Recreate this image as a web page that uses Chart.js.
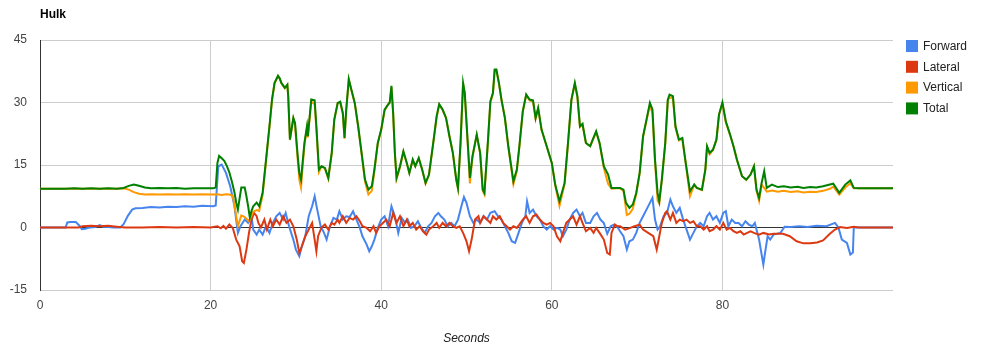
<!DOCTYPE html>
<html>
<head>
<meta charset="utf-8">
<title>Hulk</title>
<script src="https://cdn.jsdelivr.net/npm/chart.js@4.4.1/dist/chart.umd.min.js"></script>
<style>
html,body{margin:0;padding:0;background:#fff;}
#wrap{width:1000px;height:358px;}
</style>
</head>
<body>
<div id="wrap"><canvas id="hulkChart" width="1000" height="358"></canvas></div>
<script>
// [seconds, value]
const forward = [
[0,0],[3.0,0],[3.2,1.2],[3.6,1.3],[4.2,1.3],[4.6,0.5],[4.9,-0.4],[5.3,-0.3],[5.8,0],[6.5,0.1],[7.0,0.6],[7.4,0.2],[8.0,0.1],[8.6,0],[9.4,0],
[9.8,0.8],[10.3,2.8],[10.8,4.3],[11.2,4.6],[12,4.7],[13,4.9],[14,4.8],[15,5.0],[16,4.9],[17,5.1],[18,5.0],[19,5.2],[20.3,5.1],
[20.6,5.3],[20.9,14.7],[21.3,15.1],[21.8,13.1],[22.3,9.9],[22.8,5.1],[23.2,-1.3],[23.5,0.3],[24.0,1.9],[24.4,1.1],[24.8,2.7],[25.0,-0.5],
[25.4,-1.7],[25.7,-0.5],[26.1,-1.7],[26.5,0.3],[26.9,-1.3],[27.3,1.1],[27.7,2.7],[28.1,3.5],[28.5,1.9],[28.8,3.5],[29.2,0.3],[29.7,-2.9],
[30.0,-5.3],[30.4,-6.9],[30.7,-4.5],[31.1,-2.1],[31.5,2.7],[31.9,5.1],[32.2,7.5],[32.5,4.3],[32.9,0.3],[33.3,-1.3],[33.6,-2.9],[34.0,0.3],
[34.4,2.3],[34.8,1.9],[35.1,3.9],[35.5,1.9],[35.9,2.7],[36.3,2.5],[36.7,3.9],[37.1,1.9],[37.5,-0.1],[37.8,-2.1],[38.3,-4.1],[38.6,-5.7],
[38.9,-4.5],[39.2,-2.9],[39.6,-0.1],[40.0,1.9],[40.4,2.7],[40.8,0.3],[41.2,5.1],[41.6,2.7],[42.0,-1.3],[42.4,2.3],[42.8,1.1],[43.1,1.9],
[43.5,-0.1],[43.9,0.3],[44.3,1.5],[44.7,-0.1],[45.1,-1.3],[45.5,0.3],[45.9,1.1],[46.3,2.7],[46.7,3.5],[47.0,2.7],[47.4,1.9],[47.8,0.3],
[48.2,1.1],[48.6,0.3],[49.0,1.9],[49.4,5.1],[49.7,7.3],[50.0,5.9],[50.4,2.7],[50.8,1.1],[51.2,1.9],[51.6,1.1],[52.0,2.7],[52.4,1.9],
[52.8,3.5],[53.3,3.9],[53.7,2.7],[54.1,1.9],[54.5,0.3],[54.9,-1.3],[55.3,-3.3],[55.7,-3.7],[56.1,-1.3],[56.5,1.1],[56.9,2.7],[57.1,6.3],
[57.4,3.5],[57.8,4.3],[58.2,2.7],[58.6,1.9],[59.0,0.3],[59.4,-0.5],[59.8,0.3],[60.2,-0.5],[60.6,-0.1],[61.0,-0.5],[61.3,-2.1],[61.7,-0.5],
[62.1,1.9],[62.5,3.5],[62.9,4.3],[63.3,2.7],[63.6,3.5],[64.0,1.1],[64.5,1.1],[64.9,2.7],[65.3,3.5],[65.7,1.9],[66.1,1.1],[66.5,-1.5],
[66.9,0.3],[67.3,0.7],[67.7,0.1],[68.0,-0.9],[68.4,-2.1],[68.8,-5.3],[69.1,-3.3],[69.5,-2.9],[69.9,-1.3],[70.3,1.1],[70.7,2.7],[71.1,4.3],
[71.5,5.9],[71.8,7.1],[72.1,1.9],[72.4,-0.5],[72.7,0.3],[73.1,2.7],[73.5,3.5],[73.9,6.7],[74.2,5.1],[74.6,3.5],[75.0,4.7],[75.4,1.9],
[75.8,-0.5],[76.2,-2.9],[76.6,-1.3],[77.0,0.3],[77.4,1.1],[77.8,0.3],[78.2,2.7],[78.5,3.5],[78.9,1.9],[79.3,2.7],[79.7,1.1],[80.1,3.5],
[80.4,3.9],[80.7,0.3],[81.1,1.9],[81.5,1.1],[81.9,1.1],[82.3,0.3],[82.7,1.5],[83.1,0.7],[83.5,0.3],[83.8,1.1],[84.3,-2.9],[84.8,-8.9],
[85.0,-6.1],[85.3,-2.1],[85.6,-2.9],[86.0,-1.7],[86.8,-1.3],[87.3,0.2],[88,0.1],[89,0.3],[90,0.1],[91,0.4],[92.2,0.3],[93.2,1.1],
[93.6,0],[94.0,-2.9],[94.6,-3.7],[95.0,-6.5],[95.3,-6.0],[95.4,0],[100,0]
];

const lateral = [
[0,0],[4.5,0],[5,0.3],[6,0.4],[7,0.3],[8,0.4],[9,0.2],[10,0],[12,0],[14,0.1],[16,0],[18,0.1],[20,0],
[20.8,0.3],[21.2,-0.2],[21.5,0.4],[21.8,-0.3],[22.2,0.7],[22.6,-0.1],[23.0,-2.9],[23.4,-4.5],[23.7,-8.1],[23.9,-8.5],[24.2,-5.3],
[24.5,-1.3],[24.8,1.9],[25.1,3.5],[25.4,2.7],[25.6,1.1],[25.9,0],[26.3,1.9],[26.6,-0.5],[27.0,1.9],[27.3,0.3],[27.7,1.9],[28.1,0.7],
[28.5,2.7],[28.9,1.1],[29.3,1.9],[29.7,0.3],[30.1,-2.9],[30.4,-6.1],[30.7,-4.5],[31.1,-2.1],[31.5,-0.5],[31.9,1.1],[32.2,-2.9],
[32.4,-5.7],[32.6,-2.1],[33.0,0],[33.4,0.7],[33.8,-0.5],[34.2,1.1],[34.5,0.7],[34.9,1.9],[35.1,1.1],[35.5,2.7],[35.9,1.1],[36.3,2.3],
[36.7,1.9],[37.1,2.7],[37.5,1.5],[37.8,0.3],[38.3,-0.1],[38.7,-0.9],[39.1,0.3],[39.4,-1.3],[39.8,0.3],[40.2,1.1],[40.6,1.9],[41.0,0.3],
[41.4,3.5],[41.8,1.1],[42.2,2.7],[42.6,0.3],[43.0,1.9],[43.3,0.3],[43.7,1.1],[44.1,-0.5],[44.5,0.3],[44.9,-0.9],[45.3,-1.7],[45.6,-0.5],
[46.1,0.3],[46.5,1.1],[46.8,-0.1],[47.2,1.1],[47.6,0.3],[48.0,1.1],[48.4,0.3],[48.8,-0.1],[49.2,0.3],[49.6,-1.3],[50.0,-3.3],[50.3,-5.7],
[50.6,-2.9],[51.0,1.9],[51.4,2.7],[51.6,1.1],[52.0,2.7],[52.4,1.9],[52.8,1.1],[53.1,2.7],[53.5,1.9],[53.9,2.7],[54.3,1.1],[54.7,0.3],
[55.1,-0.5],[55.5,0.3],[55.9,-0.1],[56.2,0.7],[56.6,1.9],[57.0,2.7],[57.4,1.1],[57.8,2.7],[58.2,3.1],[58.6,1.9],[59.0,1.1],[59.4,0.7],
[59.8,1.1],[60.2,0.3],[60.6,-2.1],[61.0,-3.3],[61.3,-1.3],[61.7,1.1],[62.1,1.9],[62.5,2.7],[62.9,0.7],[63.3,2.7],[63.6,1.1],[64.0,-0.9],
[64.5,-0.1],[64.9,-1.3],[65.2,-0.1],[65.6,-1.3],[66.1,-2.9],[66.5,-6.1],[66.8,-6.5],[67.0,-1.3],[67.4,0.7],[67.7,0.3],[68.0,0.3],
[68.6,-0.5],[69.2,-0.1],[69.7,0.3],[70.3,0.7],[70.7,-0.5],[71.3,-1.3],[71.9,-2.1],[72.3,-5.3],[72.6,-2.1],[72.9,1.1],[73.3,3.5],
[73.5,3.9],[73.9,1.9],[74.2,3.5],[74.6,1.1],[75.0,1.9],[75.4,1.5],[75.8,1.9],[76.2,1.1],[76.6,1.5],[77.0,0.3],[77.4,0.3],[77.8,-0.5],
[78.2,0.3],[78.5,-0.9],[78.9,-0.5],[79.3,0.3],[79.7,-0.5],[80.1,1.1],[80.5,-0.5],[80.9,-0.1],[81.3,-0.9],[81.7,-1.3],[82.1,-0.9],
[82.5,-1.7],[82.9,-1.3],[83.3,-0.9],[83.7,-1.3],[84.3,-1.7],[84.8,-1.3],[85.5,-1.7],[86.0,-1.5],[87.1,-1.5],[87.9,-2.1],[88.7,-3.3],
[89.5,-3.8],[90.3,-3.8],[91.1,-3.6],[91.8,-3.1],[92.6,-1.5],[93.2,-0.5],[93.8,0.1],[94.6,-0.1],[95.4,0.2],[96,0],[100,0]
];

const vertical = [
[0,9.3],[1,9.3],[2,9.3],[3,9.3],[4,9.3],[5,9.3],[6,9.3],[7,9.3],[8,9.3],[9,9.3],[9.8,9.4],[10.4,9.1],[11,8.5],[11.6,8.1],[12.3,7.9],
[13,8.0],[14,7.9],[15,8.0],[16,7.9],[17,8.0],[18,7.9],[19,8.0],[20.3,7.9],[20.8,8.0],[21.3,7.8],[21.8,8.0],[22.2,7.9],[22.6,7.6],
[22.9,4.0],[23.2,0.3],[23.6,2.9],[24.0,2.5],[24.5,1.5],[25.0,3.8],[25.4,4.2],[25.7,4.0],[26.1,7.8],[26.5,16.0],[26.9,24.1],[27.2,30.6],
[27.5,34.6],[27.9,36.3],[28.1,35.7],[28.3,34.6],[28.7,33.4],[29.0,34.2],[29.1,31.4],[29.3,21.0],[29.7,26.2],[29.9,24.5],[30.2,16.5],
[30.4,11.5],[30.6,9.6],[31.0,19.8],[31.3,24.0],[31.4,21.6],[31.8,30.2],[32.2,29.6],[32.4,23.6],[32.7,13.3],[33.0,14.6],[33.4,14.2],
[33.8,11.7],[34.2,17.8],[34.5,25.8],[34.9,29.8],[35.2,30.0],[35.5,27.3],[35.7,21.3],[35.9,28.1],[36.2,35.5],[36.5,33.0],[36.9,29.8],
[37.3,24.2],[37.7,17.8],[38.1,11.0],[38.5,7.9],[38.9,8.8],[39.2,13.5],[39.6,20.2],[40.0,23.4],[40.4,28.1],[40.8,29.5],[41.0,30.0],
[41.2,33.6],[41.4,27.4],[41.6,17.8],[41.8,11.6],[42.2,14.4],[42.6,18.1],[43.0,15.4],[43.3,13.1],[43.7,16.2],[44.0,14.7],[44.4,16.6],
[44.8,13.9],[45.2,10.5],[45.6,12.6],[46.1,20.2],[46.5,26.5],[46.8,29.4],[47.2,28.2],[47.6,26.3],[48.0,21.9],[48.4,17.9],[48.8,11.4],
[49.0,9.3],[49.3,20.0],[49.6,34.5],[49.8,31.5],[50.1,21.5],[50.4,10.6],[50.7,16.9],[51.2,22.2],[51.6,17.8],[51.9,8.8],[52.1,7.9],
[52.5,20.1],[52.8,30.1],[53.1,32.1],[53.3,37.7],[53.5,37.8],[53.8,34.6],[54.1,30.6],[54.5,26.3],[54.9,19.4],[55.3,13.5],[55.5,10.4],
[55.9,13.5],[56.2,19.4],[56.6,27.8],[57.0,31.8],[57.4,30.5],[57.8,30.2],[58.1,26.1],[58.4,28.6],[58.8,23.4],[59.4,19.5],[60.0,15.5],
[60.4,10.1],[60.9,5.2],[61.5,10.4],[61.9,20.2],[62.3,30.6],[62.7,34.4],[63.0,31.3],[63.3,24.1],[63.6,24.7],[64.0,20.3],[64.5,19.5],
[64.8,21.0],[65.2,22.9],[65.6,20.2],[66.1,14.3],[66.6,10.5],[67.0,9.3],[67.6,9.4],[68.0,9.4],[68.4,8.8],[68.8,3.0],[69.1,3.3],[69.5,4.5],
[69.9,8.1],[70.3,13.0],[70.7,21.8],[71.1,25.6],[71.5,29.4],[71.8,27.4],[72.1,15.8],[72.4,6.5],[72.6,5.8],[72.9,11.4],[73.3,20.0],
[73.6,30.5],[73.8,31.2],[74.2,31.1],[74.5,24.0],[74.9,20.9],[75.3,21.3],[75.7,15.4],[76.2,7.5],[76.7,10.2],[77.0,9.5],[77.6,9.0],
[78.0,13.9],[78.2,19.3],[78.5,17.6],[78.9,18.6],[79.3,21.0],[79.6,27.0],[80.0,29.8],[80.4,25.2],[80.9,22.2],[81.3,19.5],[81.7,16.2],
[82.3,12.3],[82.8,11.4],[83.3,12.7],[83.7,14.7],[84.0,8.8],[84.3,6.4],[84.6,10.3],[84.9,9.5],[85.2,8.6],[85.8,8.9],[86.5,8.6],
[87.2,8.8],[88,8.5],[88.8,8.7],[89.5,8.4],[90.3,8.6],[91,8.5],[91.8,8.8],[92.6,9.3],[93.0,9.8],[93.7,7.9],[94.4,9.6],[95.0,10.6],
[95.4,9.4],[96,9.4],[100,9.4]
];

const total = [
[0,9.3],[1,9.3],[2,9.3],[3,9.3],[4,9.4],[5,9.3],[6,9.4],[7,9.3],[8,9.4],[9,9.3],[9.8,9.5],[10.4,10.0],[11,10.3],[11.6,10.0],[12.3,9.6],
[13,9.4],[14,9.5],[15,9.4],[16,9.5],[17,9.3],[18,9.4],[19,9.4],[20.3,9.4],[20.6,9.6],[20.8,15.5],[21.0,17.2],[21.3,16.6],[21.6,16.0],
[21.9,14.8],[22.2,13.2],[22.5,11.0],[22.8,8.4],[23.0,6.0],[23.2,4.3],[23.4,7.0],[23.6,9.6],[24.0,9.6],[24.2,7.5],[24.4,5.1],[24.6,2.4],
[24.8,4.0],[25.0,5.1],[25.4,6.0],[25.7,5.1],[26.1,8.4],[26.5,16.3],[26.9,24.3],[27.2,30.7],[27.5,34.7],[27.9,36.4],[28.1,35.8],
[28.3,34.7],[28.7,33.5],[29.0,34.3],[29.1,31.5],[29.3,21.1],[29.7,26.3],[29.9,25.1],[30.2,17.5],[30.4,13.1],[30.6,11.5],[31.0,20.3],
[31.3,24.3],[31.4,21.9],[31.8,30.7],[32.2,30.5],[32.4,24.3],[32.7,13.9],[33.0,14.7],[33.4,14.3],[33.8,11.9],[34.2,17.9],[34.5,25.9],
[34.9,29.9],[35.2,30.2],[35.5,27.5],[35.7,21.5],[35.9,28.3],[36.2,35.6],[36.5,33.1],[36.9,29.9],[37.3,24.3],[37.7,17.9],[38.1,11.5],
[38.5,9.1],[38.9,9.9],[39.2,13.9],[39.6,20.3],[40.0,23.5],[40.4,28.3],[40.8,29.5],[41.0,30.0],[41.2,34.0],[41.4,27.5],[41.6,18.0],
[41.8,11.9],[42.2,14.7],[42.6,18.3],[43.0,15.5],[43.3,13.1],[43.7,16.3],[44.0,14.7],[44.4,16.7],[44.8,13.9],[45.2,10.7],[45.6,12.7],
[46.1,20.3],[46.5,26.7],[46.8,29.6],[47.2,28.3],[47.6,26.3],[48.0,21.9],[48.4,17.9],[48.8,11.5],[49.0,9.5],[49.3,20.3],[49.6,34.7],
[49.8,32.3],[50.1,21.9],[50.4,11.9],[50.7,17.1],[51.2,22.3],[51.6,17.9],[51.9,9.1],[52.1,8.3],[52.5,20.3],[52.8,30.3],[53.1,32.3],
[53.3,37.9],[53.5,37.9],[53.8,34.7],[54.1,30.7],[54.5,26.3],[54.9,19.5],[55.3,13.9],[55.5,11.1],[55.9,13.9],[56.2,19.5],[56.6,27.9],
[57.0,31.9],[57.4,30.7],[57.8,30.5],[58.1,26.3],[58.4,28.7],[58.8,23.5],[59.4,19.5],[60.0,15.5],[60.4,10.3],[60.9,6.3],[61.5,10.7],
[61.9,20.3],[62.3,30.7],[62.7,34.7],[63.0,31.5],[63.3,24.3],[63.6,24.9],[64.0,20.3],[64.5,19.5],[64.8,21.1],[65.2,23.1],[65.6,20.3],
[66.1,14.7],[66.6,12.7],[67.0,9.5],[67.6,9.5],[68.0,9.5],[68.4,9.1],[68.7,5.9],[69.1,4.7],[69.5,5.5],[69.9,8.3],[70.3,13.1],[70.7,21.9],
[71.1,25.9],[71.5,29.9],[71.8,28.3],[72.1,16.3],[72.4,8.3],[72.6,6.3],[72.9,11.5],[73.3,20.3],[73.6,30.7],[73.8,31.9],[74.2,31.5],
[74.5,24.3],[74.9,21.1],[75.3,21.5],[75.7,15.5],[76.2,8.7],[76.7,10.3],[77.0,9.5],[77.6,9.1],[78.0,13.9],[78.2,19.5],[78.5,17.9],
[78.9,18.7],[79.3,21.1],[79.6,27.1],[80.0,30.0],[80.4,25.5],[80.9,22.3],[81.3,19.5],[81.7,16.3],[82.3,12.3],[82.8,11.5],[83.3,12.7],
[83.7,14.7],[84.0,9.1],[84.3,7.1],[84.6,10.7],[84.9,13.5],[85.2,9.5],[85.8,10.3],[86.5,9.7],[87.2,9.9],[88,9.6],[88.8,9.8],[89.5,9.5],
[90.3,9.7],[91,9.6],[91.8,9.9],[92.6,10.3],[93.0,10.5],[93.7,8.3],[94.4,10.3],[95.0,11.3],[95.4,9.5],[96,9.4],[100,9.4]
];

const seriesNames = ["Forward","Lateral","Vertical","Total"];
const seriesColors = ["#4684ee","#dc3912","#ff9900","#008000"];
const xTicks = [0,20,40,60,80];
const yTicks = [-15,0,15,30,45];

const fontFamily = "'Liberation Sans', Arial, sans-serif";

function toPoints(pairs){
    return pairs.map(p => ({x:p[0], y:p[1]}));
}

// title "Hulk" and the legend on the right
const titleLegend = {
    id:"titleLegend",
    afterDraw(chart){
        const ctx = chart.ctx;
        const area = chart.chartArea;
        ctx.save();
        ctx.fillStyle = "#000";
        ctx.font = "bold 12px " + fontFamily;
        ctx.textBaseline = "alphabetic";
        ctx.textAlign = "left";
        ctx.fillText("Hulk", area.left, 18);

        ctx.font = "12px " + fontFamily;
        ctx.textBaseline = "middle";
        chart.data.datasets.forEach((ds, i) => {
            const top = 40 + i * 20.8;
            ctx.fillStyle = ds.borderColor;
            ctx.fillRect(906, top, 12, 12);
            ctx.fillStyle = "#222";
            ctx.fillText(ds.label, 923, top + 6.5);
        });
        ctx.restore();
    }
};

const seriesData = [forward, lateral, vertical, total];

new Chart(document.getElementById("hulkChart"),{
    type:"line",
    data:{
        datasets:seriesData.map((s, i) => ({
            label:seriesNames[i],
            data:toPoints(s),
            borderColor:seriesColors[i],
            backgroundColor:seriesColors[i],
            order:3 - i
        }))
    },
    options:{
        responsive:false,
        animation:false,
        devicePixelRatio:1,
        layout:{padding:{top:40, right:107, left:0, bottom:0}},
        elements:{
            point:{radius:0},
            line:{borderWidth:2, tension:0}
        },
        plugins:{
            legend:{display:false},
            tooltip:{enabled:false}
        },
        scales:{
            x:{
                type:"linear",
                min:0,
                max:100,
                afterBuildTicks:scale => { scale.ticks = xTicks.map(v => ({value:v})); },
                afterFit:scale => { scale.height = 68; },
                grid:{
                    color:c => c.tick && c.tick.value === 0 ? "rgba(0,0,0,0)" : "#cccccc",
                    drawTicks:false
                },
                border:{display:false},
                ticks:{padding:8, color:"#444", maxRotation:0, font:{family:fontFamily, size:12}},
                title:{
                    display:true,
                    text:"Seconds",
                    color:"#222",
                    padding:{top:0, bottom:12},
                    font:{family:fontFamily, size:12, style:"italic"}
                }
            },
            y:{
                min:-15,
                max:45,
                afterBuildTicks:scale => { scale.ticks = yTicks.map(v => ({value:v})); },
                afterFit:scale => { scale.width = 40; },
                grid:{
                    color:c => c.tick && c.tick.value === 0 ? "#333333" : "#cccccc",
                    drawTicks:false
                },
                border:{display:true, color:"#333333"},
                ticks:{padding:13, color:"#444", font:{family:fontFamily, size:12}}
            }
        }
    },
    plugins:[titleLegend]
});
</script>
</body>
</html>
